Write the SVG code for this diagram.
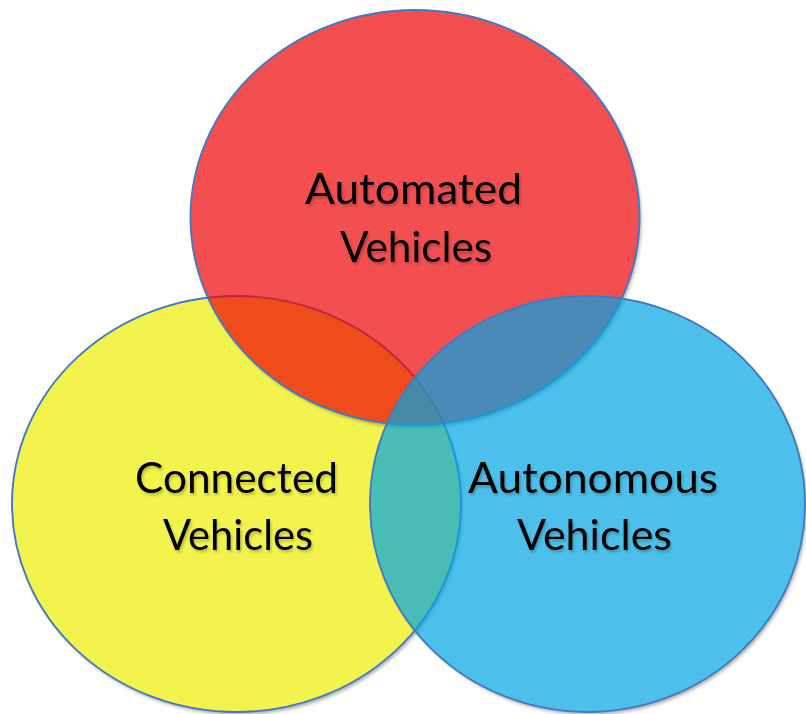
<svg xmlns="http://www.w3.org/2000/svg" width="806" height="714" viewBox="0 0 806 714">
  <style>
    .outline { stroke: #4479C2; stroke-width: 1.9; fill-opacity: 0.7; }
    .label { font-family: "Lato", "Liberation Sans", sans-serif; font-size: 42px; fill: #000; filter: url(#txtShadow); }
    .shadow { fill: #000; fill-opacity: 0.28; filter: url(#blur); }
  </style>
  <defs>
    <filter id="blur" x="-10%" y="-10%" width="120%" height="120%">
      <feGaussianBlur stdDeviation="1.8"/>
    </filter>
    <filter id="txtShadow" x="-10%" y="-20%" width="120%" height="150%">
      <feDropShadow dx="1.5" dy="2.5" stdDeviation="1.3" flood-color="#000" flood-opacity="0.22"/>
    </filter>
    <mask id="mYellow" maskUnits="userSpaceOnUse" x="0" y="0" width="806" height="714">
      <rect x="0" y="0" width="806" height="714" fill="#fff"/>
      <ellipse cx="236.5" cy="504" rx="224.5" ry="208" fill="#000"/>
    </mask>
    <mask id="mRed" maskUnits="userSpaceOnUse" x="0" y="0" width="806" height="714">
      <rect x="0" y="0" width="806" height="714" fill="#fff"/>
      <ellipse cx="415" cy="217.5" rx="224.5" ry="207.5" fill="#000"/>
    </mask>
    <mask id="mBlue" maskUnits="userSpaceOnUse" x="0" y="0" width="806" height="714">
      <rect x="0" y="0" width="806" height="714" fill="#fff"/>
      <ellipse cx="587.5" cy="504" rx="217.5" ry="208" fill="#000"/>
    </mask>
  </defs>
  <rect x="0" y="0" width="806" height="714" fill="#fff"/>

  <g id="node-connected">
    <g mask="url(#mYellow)">
      <ellipse class="shadow" cx="238.5" cy="507" rx="224.5" ry="208"/>
    </g>
    <ellipse class="outline" cx="236.5" cy="504" rx="224.5" ry="208" fill="#EEEE02"/>
    <text class="label" x="135" y="493" textLength="203" lengthAdjust="spacingAndGlyphs">Connected</text>
    <text class="label" x="163" y="550" textLength="150" lengthAdjust="spacingAndGlyphs">Vehicles</text>
  </g>

  <g id="node-automated">
    <g mask="url(#mRed)">
      <ellipse class="shadow" cx="417" cy="220.5" rx="224.5" ry="207.5"/>
    </g>
    <ellipse class="outline" cx="415" cy="217.5" rx="224.5" ry="207.5" fill="#EE0406"/>
    <text class="label" x="305" y="204" textLength="217" lengthAdjust="spacingAndGlyphs">Automated</text>
    <text class="label" x="340" y="262" textLength="152" lengthAdjust="spacingAndGlyphs">Vehicles</text>
  </g>

  <g id="node-autonomous">
    <g mask="url(#mBlue)">
      <ellipse class="shadow" cx="589.5" cy="507" rx="217.5" ry="208"/>
    </g>
    <ellipse class="outline" cx="587.5" cy="504" rx="217.5" ry="208" fill="#00A5E1"/>
    <text class="label" x="468" y="493" textLength="250" lengthAdjust="spacingAndGlyphs">Autonomous</text>
    <text class="label" x="517" y="550" textLength="155" lengthAdjust="spacingAndGlyphs">Vehicles</text>
  </g>
</svg>
